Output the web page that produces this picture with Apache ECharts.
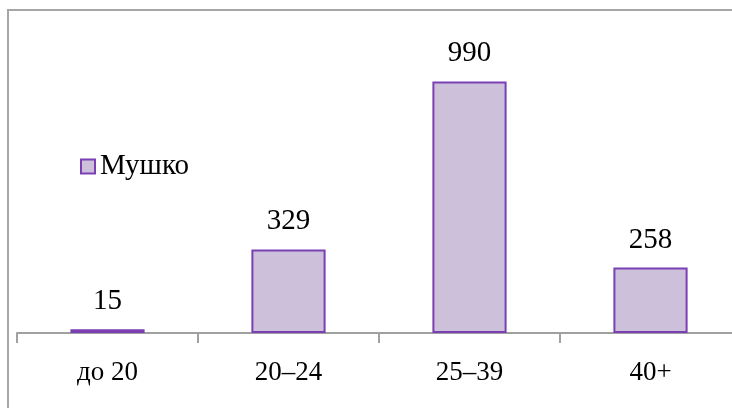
<!DOCTYPE html>
<html>
<head>
<meta charset="utf-8">
<script src="https://cdn.jsdelivr.net/npm/echarts@6/dist/echarts.min.js"></script>
<style>
  html, body { margin: 0; padding: 0; background: #fff; overflow: hidden; }
  #chart { width: 750px; height: 408px; }
</style>
</head>
<body>
<div id="chart"></div>
<script>
// Age groups and counts
const categories = ['до 20', '20–24', '25–39', '40+'];
const seriesName = 'Мушко';
const values = [15, 329, 990, 258];

const FONT = "'Liberation Serif', 'Times New Roman', serif";

const chart = echarts.init(document.getElementById('chart'));
chart.setOption({
  animation: false,
  backgroundColor: '#ffffff',
  textStyle: { fontFamily: FONT },
  grid: { left: 17, top: 28, width: 724, height: 305, containLabel: false },
  legend: {
    left: 75,
    top: 147,
    icon: 'rect',
    itemWidth: 14,
    itemHeight: 14,
    itemGap: 4,
    textStyle: { fontFamily: FONT, fontSize: 29, color: '#000' },
    data: [seriesName]
  },
  xAxis: {
    type: 'category',
    data: categories,
    splitLine: { show: false },
    axisLine: { lineStyle: { color: '#a0a0a0', width: 2 } },
    axisTick: { show: true, length: 10, lineStyle: { color: '#a0a0a0', width: 2 } },
    axisLabel: { color: '#000', fontFamily: FONT, fontSize: 27, margin: 26 }
  },
  yAxis: {
    type: 'value',
    min: 0,
    max: 1200,
    show: false
  },
  series: [{
    name: seriesName,
    type: 'bar',
    data: values,
    barWidth: '41%',
    itemStyle: { color: '#ccc0da', borderColor: '#7b3fb4', borderWidth: 2 },
    label: {
      show: true,
      position: 'top',
      distance: 13,
      color: '#000',
      fontFamily: FONT,
      fontSize: 29
    }
  }],
  graphic: [
    // outer frame: left and top edges
    {
      type: 'polyline',
      shape: { points: [[8, 420], [8, 10], [760, 10]] },
      style: { stroke: '#a6a6a6', lineWidth: 2, fill: null }
    }
  ]
});
</script>
</body>
</html>
